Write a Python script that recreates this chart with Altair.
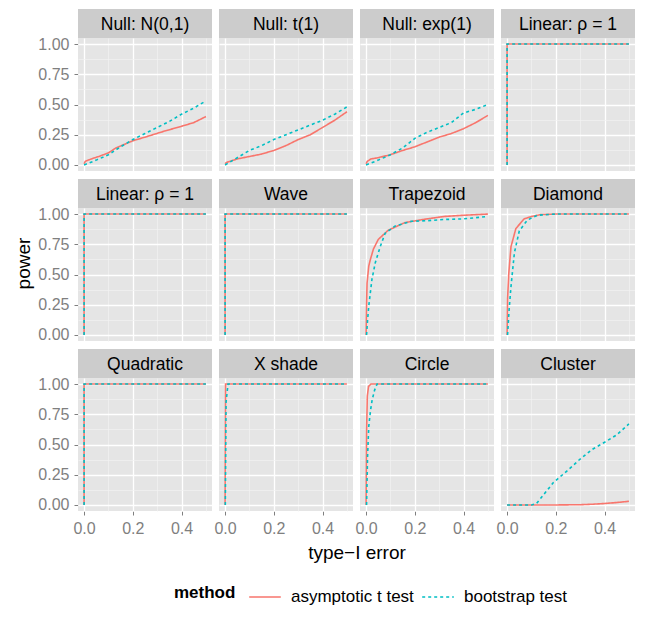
import altair as alt
import pandas as pd

panel_titles = ["Null: N(0,1)", "Null: t(1)", "Null: exp(1)", "Linear: ρ = 1",
                "Linear: ρ = 1", "Wave", "Trapezoid", "Diamond",
                "Quadratic", "X shade", "Circle", "Cluster"]
methods = ["asymptotic t test", "bootstrap test"]

# Null: N(0,1)
n01_asym_x = [0, 0.005, 0.03, 0.06, 0.1, 0.13, 0.2, 0.25, 0.33, 0.4, 0.45, 0.5]
n01_asym_y = [0.01, 0.03, 0.05, 0.07, 0.1, 0.14, 0.2, 0.23, 0.28, 0.32, 0.35, 0.40]
n01_boot_x = [0, 0.05, 0.1, 0.15, 0.2, 0.25, 0.3, 0.35, 0.4, 0.45, 0.5]
n01_boot_y = [0, 0.04, 0.085, 0.15, 0.21, 0.26, 0.31, 0.36, 0.42, 0.47, 0.53]
# Null: t(1)
t1_asym_x = [0, 0.005, 0.05, 0.1, 0.15, 0.2, 0.25, 0.3, 0.35, 0.4, 0.45, 0.5]
t1_asym_y = [0.01, 0.02, 0.05, 0.07, 0.09, 0.12, 0.16, 0.21, 0.25, 0.31, 0.37, 0.44]
t1_boot_x = [0, 0.05, 0.1, 0.15, 0.2, 0.25, 0.3, 0.35, 0.4, 0.45, 0.5]
t1_boot_y = [0, 0.06, 0.12, 0.16, 0.21, 0.25, 0.29, 0.33, 0.37, 0.42, 0.48]
# Null: exp(1)
exp_asym_x = [0, 0.005, 0.02, 0.05, 0.1, 0.15, 0.2, 0.25, 0.3, 0.35, 0.4, 0.45, 0.5]
exp_asym_y = [0.01, 0.03, 0.05, 0.06, 0.085, 0.12, 0.15, 0.19, 0.23, 0.26, 0.30, 0.35, 0.41]
exp_boot_x = [0, 0.05, 0.1, 0.15, 0.2, 0.25, 0.3, 0.35, 0.4, 0.45, 0.5]
exp_boot_y = [0, 0.04, 0.085, 0.14, 0.22, 0.27, 0.31, 0.35, 0.43, 0.46, 0.50]
# step-like panels (Linear, Linear, Wave, Quadratic)
step_x = [0, 0, 0.5]
step_y = [0, 1, 1]
# Trapezoid
trap_asym_x = [0, 0.002, 0.004, 0.011, 0.017, 0.03, 0.05, 0.09, 0.16, 0.25, 0.32, 0.4, 0.5]
trap_asym_y = [0, 0.25, 0.43, 0.57, 0.62, 0.71, 0.79, 0.865, 0.93, 0.96, 0.98, 0.99, 1.0]
trap_boot_x = [0.002, 0.006, 0.011, 0.024, 0.038, 0.058, 0.078, 0.118, 0.186, 0.25, 0.32, 0.4, 0.5]
trap_boot_y = [0, 0.12, 0.24, 0.46, 0.6, 0.73, 0.84, 0.9, 0.94, 0.945, 0.955, 0.96, 0.98]
# Diamond
diam_asym_x = [0, 0.002, 0.007, 0.016, 0.036, 0.07, 0.1, 0.137, 0.2, 0.5]
diam_asym_y = [0, 0.3, 0.51, 0.73, 0.88, 0.96, 0.98, 0.995, 1, 1]
diam_boot_x = [0.002, 0.008, 0.016, 0.03, 0.05, 0.083, 0.124, 0.2, 0.5]
diam_boot_y = [0, 0.2, 0.40, 0.68, 0.86, 0.95, 0.99, 1, 1]
# X shade
xs_asym_x = [0, 0.002, 0.5]
xs_asym_y = [0, 1, 1]
xs_boot_x = [0.001, 0.004, 0.012, 0.5]
xs_boot_y = [0, 0.85, 1, 1]
# Circle
circ_asym_x = [0, 0.002, 0.005, 0.01, 0.02, 0.5]
circ_asym_y = [0, 0.6, 0.9, 0.98, 1, 1]
circ_boot_x = [0.002, 0.006, 0.011, 0.018, 0.025, 0.035, 0.045, 0.5]
circ_boot_y = [0, 0.4, 0.65, 0.78, 0.87, 0.95, 1, 1]
# Cluster
clus_asym_x = [0, 0.1, 0.2, 0.3, 0.35, 0.4, 0.45, 0.5]
clus_asym_y = [0, 0, 0, 0.002, 0.006, 0.012, 0.02, 0.03]
clus_boot_x = [0, 0.05, 0.1, 0.12, 0.19, 0.245, 0.3, 0.35, 0.41, 0.45, 0.5]
clus_boot_y = [0, 0, 0, 0.01, 0.185, 0.28, 0.38, 0.46, 0.53, 0.58, 0.67]

series = [
    (n01_asym_x, n01_asym_y, n01_boot_x, n01_boot_y),
    (t1_asym_x, t1_asym_y, t1_boot_x, t1_boot_y),
    (exp_asym_x, exp_asym_y, exp_boot_x, exp_boot_y),
    (step_x, step_y, step_x, step_y),
    (step_x, step_y, step_x, step_y),
    (step_x, step_y, step_x, step_y),
    (trap_asym_x, trap_asym_y, trap_boot_x, trap_boot_y),
    (diam_asym_x, diam_asym_y, diam_boot_x, diam_boot_y),
    (step_x, step_y, step_x, step_y),
    (xs_asym_x, xs_asym_y, xs_boot_x, xs_boot_y),
    (circ_asym_x, circ_asym_y, circ_boot_x, circ_boot_y),
    (clus_asym_x, clus_asym_y, clus_boot_x, clus_boot_y),
]

rows = []
for pid, (title, (ax, ay, bx, by)) in enumerate(zip(panel_titles, series)):
    for m, xs, ys in ((methods[0], ax, ay), (methods[1], bx, by)):
        for i, (xv, yv) in enumerate(zip(xs, ys)):
            rows.append({"pid": pid, "title": title, "method": m, "idx": i, "x": xv, "y": yv})
df = pd.DataFrame(rows)

W, H = 134, 133
STRIP = 29
FONT = "Liberation Sans"

x_axis = alt.Axis(
    values=[0, 0.1, 0.2, 0.3, 0.4, 0.5], title=None,
    labelExpr="round(datum.value*10) % 2 == 1 ? '' : format(datum.value, '.1f')",
    gridColor={"condition": {"test": "round(datum.value*10) % 2 == 1", "value": "#F2F2F2"}, "value": "#FFFFFF"},
    gridWidth={"condition": {"test": "round(datum.value*10) % 2 == 1", "value": 0.7}, "value": 1.3},
    tickColor={"condition": {"test": "round(datum.value*10) % 2 == 1", "value": "transparent"}, "value": "#7F7F7F"},
)
y_axis = alt.Axis(
    values=[0, 0.125, 0.25, 0.375, 0.5, 0.625, 0.75, 0.875, 1.0], title=None,
    labelExpr="round(datum.value*8) % 2 == 1 ? '' : format(datum.value, '.2f')",
    gridColor={"condition": {"test": "round(datum.value*8) % 2 == 1", "value": "#F2F2F2"}, "value": "#FFFFFF"},
    gridWidth={"condition": {"test": "round(datum.value*8) % 2 == 1", "value": 0.7}, "value": 1.3},
    tickColor={"condition": {"test": "round(datum.value*8) % 2 == 1", "value": "transparent"}, "value": "#7F7F7F"},
)

legend = alt.Legend(orient="none", legendX=96, legendY=542, direction="horizontal",
                    title="method", titleOrient="left", titleFontWeight="bold",
                    titleFontSize=17, titleColor="black", titleFont=FONT,
                    titlePadding=12, labelFontSize=17, labelColor="black",
                    labelFont=FONT, symbolType="M-1,0H1", symbolSize=1000,
                    symbolStrokeWidth=1.6, labelOffset=9, columnPadding=4, padding=0)

base = alt.Chart(df)
lines = base.mark_line(strokeWidth=1.6).encode(
    x=alt.X("x:Q", scale=alt.Scale(domain=[-0.025, 0.525], nice=False, zero=False), axis=x_axis),
    y=alt.Y("y:Q", scale=alt.Scale(domain=[-0.05, 1.05], nice=False, zero=False), axis=y_axis),
    color=alt.Color("method:N", scale=alt.Scale(domain=methods, range=["#F8766D", "#00BFC4"]),
                    legend=legend),
    strokeDash=alt.StrokeDash("method:N", scale=alt.Scale(domain=methods, range=[[1, 0], [3, 3]]),
                              legend=legend),
    order="idx:Q",
)

strip = base.transform_aggregate(n="count()", groupby=["pid", "title"]).mark_rect(
    color="#CCCCCC"
).encode(x=alt.value(0), x2=alt.value(W), y=alt.value(-STRIP), y2=alt.value(0))

strip_text = base.transform_aggregate(n="count()", groupby=["pid", "title"]).mark_text(
    font=FONT, fontSize=17.5, color="black", baseline="middle", align="center"
).encode(x=alt.value(W / 2), y=alt.value(-STRIP / 2 + 1), text="title:N")

chart = alt.layer(lines, strip, strip_text).properties(width=W, height=H).facet(
    facet=alt.Facet("pid:O", header=alt.Header(labels=False, labelExpr="''", labelFontSize=1,
                                                labelColor="transparent", labelPadding=0,
                                                title="type−I error", titleOrient="bottom",
                                                titleFont=FONT, titleFontSize=19, titleFontWeight="normal",
                                                titleColor="black", titlePadding=8)),
    columns=4,
    spacing={"row": STRIP + 8, "column": 7},
    bounds="flush",
).properties(
    title=alt.TitleParams("power", orient="left", anchor="middle", font=FONT, fontSize=19,
                          fontWeight="normal", color="black", offset=4, dx=43),
    padding={"top": 0, "left": 6, "right": 0, "bottom": 0},
).configure_view(fill="#E5E5E5", stroke=None).configure_axis(
    domain=False, labelFont=FONT, labelFontSize=16, labelColor="#7F7F7F", tickSize=4,
    labelPadding=5, gridOpacity=1
).configure_header(labels=False)

chart.save("out.html", embed_options={"renderer": "svg", "actions": False})
